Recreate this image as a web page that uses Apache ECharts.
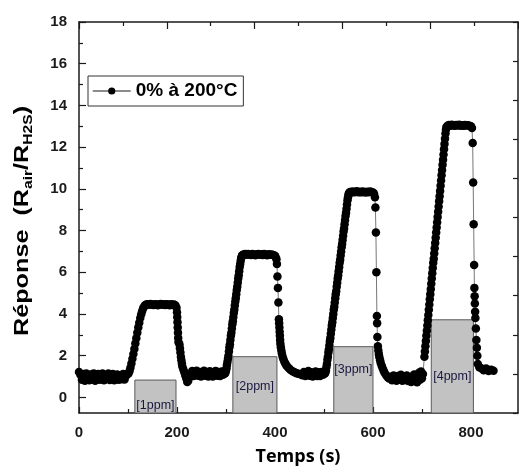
<!DOCTYPE html>
<html><head><meta charset="utf-8">
<script src="https://cdn.jsdelivr.net/npm/echarts@6/dist/echarts.min.js"></script>
<style>html,body{margin:0;padding:0;background:#fff}#c{width:519px;height:471px}</style>
</head><body><div id="c"></div>
<script>
// ---- data (time s, response) ----
const baseline0 = [[0,1.22],[3,1.08],[6,0.84],[9,1.12],[12,0.8],[15,1.14],[18,0.92],[21,0.82],[24,1.1],[27,0.88],[30,1.15],[33,0.8],[36,1.02],[39,1.12],[42,0.84],[45,0.98],[48,1.14],[51,0.82],[54,1.06],[57,0.88],[60,1.14],[63,0.83],[66,1.0],[69,1.12],[72,0.82],[75,0.96],[78,1.1],[81,0.84],[84,1.05],[87,0.87],[90,1.12],[93,0.86],[96,1.04],[99,1.12]];
const rise1 = [[101,1.14],[103,1.25],[105,1.42],[107,1.62],[109,1.85],[111,2.08],[113,2.32],[115,2.58],[117,2.84],[119,3.1],[121,3.35],[123,3.58],[125,3.8],[127,3.98],[129,4.14],[131,4.27],[133,4.36],[135,4.42],[137,4.45]];
const plateau1 = [[140,4.47],[143,4.44],[146,4.48],[149,4.45],[152,4.43],[155,4.47],[158,4.45],[161,4.42],[164,4.46],[167,4.48],[170,4.44],[173,4.46],[176,4.43],[179,4.47],[182,4.45],[185,4.42],[188,4.46],[191,4.44],[194,4.45],[197,4.41]];
const fall1 = [[199,4.3],[200,4.08],[200.5,3.85],[201,3.6],[201.5,3.35],[202,3.1],[202.5,2.85],[203,2.65],[205,2.55],[206,2.35],[207,2.15],[208,1.95],[209,1.78],[210,1.62],[211,1.48],[213,1.34],[215,1.2],[217,1.05],[219,0.9],[221,0.74],[223,0.8],[225,0.98]];
const baseline1 = [[228,1.08],[231,1.26],[234,1.02],[237,1.2],[240,1.28],[243,1.04],[246,1.22],[249,1.0],[252,1.2],[255,1.28],[258,1.04],[261,1.22],[264,1.0],[267,1.25],[270,1.08],[273,1.0],[276,1.22],[279,1.27],[282,1.04],[285,1.2],[288,1.02],[291,1.24],[294,1.08],[297,1.18]];
const rise2 = [[298,1.15],[299,1.2],[300,1.3],[301,1.4],[302,1.55],[303,1.7],[304,1.85],[305,2.0],[306,2.2],[307,2.4],[308,2.55],[309,2.75],[310,2.95],[311,3.1],[312,3.3],[313,3.5],[314,3.65],[315,3.85],[316,4.05],[317,4.2],[318,4.4],[319,4.6],[320,4.75],[321,4.95],[322,5.15],[323,5.3],[324,5.5],[325,5.7],[326,5.85],[327,6.05],[328,6.25],[329,6.4],[330,6.55],[331,6.68],[332,6.76],[333,6.8],[334,6.83],[336,6.85]];
const plateau2 = [[339,6.87],[342,6.84],[345,6.88],[348,6.85],[351,6.83],[354,6.87],[357,6.85],[360,6.82],[363,6.86],[366,6.88],[369,6.84],[372,6.86],[375,6.83],[378,6.87],[381,6.85],[384,6.82],[387,6.86],[390,6.84],[393,6.85],[396,6.83],[399,6.8],[401,6.76]];
const fall2 = [[403,6.62],[404,6.4],[405,5.8],[406,5.25],[407,4.55],[408,3.75],[408.5,3.55],[409,3.35],[409.5,3.15],[410,2.95],[410.5,2.75],[411,2.57],[412,2.4],[413,2.25],[414,2.1],[415.5,1.96],[417,1.84],[419,1.72],[421,1.62],[423,1.54],[426,1.46],[429,1.38],[432,1.31],[436,1.25],[440,1.2],[444,1.16],[448,1.13],[452,1.11]];
const baseline2 = [[456,1.06],[459,1.22],[462,1.02],[465,1.18],[468,1.26],[471,1.04],[474,1.2],[477,1.0],[480,1.16],[483,1.24],[486,1.03],[489,1.2],[492,1.02],[495,1.22],[498,1.08],[501,1.16]];
const rise3 = [[502,1.15],[503,1.2],[504,1.3],[505,1.45],[506,1.6],[507,1.8],[508,1.95],[509,2.15],[510,2.3],[511,2.5],[512,2.7],[513,2.85],[514,3.05],[515,3.25],[516,3.45],[517,3.6],[518,3.8],[519,4.0],[520,4.2],[521,4.35],[522,4.55],[523,4.75],[524,4.95],[525,5.1],[526,5.3],[527,5.5],[528,5.7],[529,5.85],[530,6.05],[531,6.25],[532,6.45],[533,6.6],[534,6.8],[535,7.0],[536,7.2],[537,7.35],[538,7.55],[539,7.75],[540,7.95],[541,8.1],[542,8.3],[543,8.5],[544,8.7],[545,8.85],[546,9.05],[547,9.25],[548,9.45],[549,9.6],[550,9.72],[551,9.8],[553,9.85]];
const plateau3 = [[555,9.84],[558,9.87],[561,9.83],[564,9.86],[567,9.88],[570,9.84],[573,9.86],[576,9.83],[579,9.87],[582,9.85],[585,9.82],[588,9.86],[591,9.84],[594,9.87],[597,9.85],[600,9.82],[602,9.78]];
const fall3 = [[604,9.6],[605,9.1],[606,7.9],[607,6.0],[608,3.9],[608.5,3.55],[609,2.9],[610,2.45],[611,2.25],[612,2.08],[613,1.93],[614.5,1.78],[616,1.64],[618,1.5],[620,1.38],[622,1.27],[624,1.17],[627,1.06],[630,0.97],[633,0.9]];
const baseline3 = [[636,0.98],[639,0.82],[642,1.05],[645,0.86],[648,0.8],[651,1.02],[654,0.85],[657,1.08],[660,0.8],[663,0.98],[666,0.83],[669,1.05],[672,0.78],[675,0.95],[678,0.74],[681,1.0],[684,1.1],[687,0.8],[690,0.72],[692,0.98],[694,1.18],[696,0.84],[698,1.24],[700,0.92],[702,1.12]];
const rise4 = [[705,1.95],[706,2.2],[707,2.45],[708,2.7],[709,2.95],[710,3.2],[711,3.45],[712,3.7],[713,3.95],[714,4.2],[715,4.45],[716,4.7],[717,4.95],[718,5.2],[719,5.45],[720,5.7],[721,5.95],[722,6.2],[723,6.45],[724,6.65],[725,6.9],[726,7.15],[727,7.4],[728,7.65],[729,7.9],[730,8.15],[731,8.4],[732,8.65],[733,8.9],[734,9.15],[735,9.4],[736,9.65],[737,9.9],[738,10.15],[739,10.4],[740,10.65],[741,10.9],[742,11.15],[743,11.4],[744,11.65],[745,11.9],[746,12.15],[747,12.4],[748,12.65],[749,12.85],[750,12.97],[752,13.03]];
const plateau4 = [[755,13.06],[758,13.03],[761,13.07],[764,13.04],[767,13.02],[770,13.06],[773,13.04],[776,13.07],[779,13.03],[782,13.05],[785,13.02],[788,13.06],[791,13.04],[794,13.05],[797,13.03],[800,13.0],[802,12.92]];
const fall4 = [[803.5,12.2],[804.5,10.3],[805.5,8.3],[806.5,6.35],[807,5.25],[807.5,4.85],[808,4.5],[808.5,4.1],[809,3.8],[810,3.3],[811,2.75],[812,2.38],[813,2.0],[814,1.6],[817,1.45],[821,1.4],[826,1.3],[831,1.38],[836,1.26],[841,1.33],[846,1.28]];

// exposure windows
const boxStart = [114, 314, 520, 719];
const boxEnd   = [198, 404, 600, 805];
const boxTop   = [0.83, 1.95, 2.43, 3.72];
const boxLabels = ['[1ppm]', '[2ppm]', '[3ppm]', '[4ppm]'];
const boxLabelY = [-0.37, 0.51, 1.31, 0.99];

const xTicks = [0, 200, 400, 600, 800];
const xMinorTicks = [100, 300, 500, 700];
const yTicks = [0, 2, 4, 6, 8, 10, 12, 14, 16, 18];
const yMinorTicks = [1, 3, 5, 7, 9, 11, 13, 15, 17];
const seriesName = '0% à 200°C';

// ---- chart ----
const X_MIN = 0, X_MAX = 896, Y_MIN = -0.75, Y_MAX = 18;
const curve = [].concat(baseline0, rise1, plateau1, fall1, baseline1, rise2, plateau2, fall2,
  baseline2, rise3, plateau3, fall3, baseline3, rise4, plateau4, fall4);
const boxes = boxStart.map((s, i) => [s, boxEnd[i], boxTop[i], i]);

const AX = '#1a1a1a';
const FONT = 'Liberation Sans';
const lineCommon = { show: true, onZero: false, lineStyle: { color: AX, width: 1.5 } };
const tickStyle = { color: AX, width: 1.2 };

const chart = echarts.init(document.getElementById('c'), null, { renderer: 'canvas' });
chart.setOption({
  animation: false,
  backgroundColor: '#fff',
  grid: { left: 79, right: 1, top: 22, bottom: 58, containLabel: false },
  legend: {
    left: 88, top: 76,
    data: [seriesName],
    orient: 'horizontal',
    padding: [5, 6, 5, 4],
    itemWidth: 38, itemHeight: 9,
    borderColor: '#333', borderWidth: 1, borderRadius: 0,
    backgroundColor: '#fff',
    textStyle: { fontFamily: FONT, fontWeight: 'bold', fontSize: 19, color: '#000', lineHeight: 20 },
    lineStyle: { color: '#666', width: 1.5 },
    selectedMode: false
  },
  xAxis: [
    { type: 'value', position: 'bottom', min: X_MIN, max: X_MAX,
      axisLine: lineCommon,
      axisTick: { show: true, inside: true, length: 6, lineStyle: tickStyle, customValues: xTicks },
      axisLabel: { show: true, customValues: xTicks, margin: 12, fontFamily: FONT, fontWeight: 'bold', fontSize: 15, color: AX },
      splitLine: { show: false } },
    { type: 'value', position: 'bottom', min: X_MIN, max: X_MAX,
      axisLine: { show: false, onZero: false },
      axisTick: { show: true, inside: true, length: 4, lineStyle: tickStyle, customValues: xMinorTicks },
      axisLabel: { show: false }, splitLine: { show: false } },
    { type: 'value', position: 'top', min: 0, max: 1000, interval: 200,
      axisLine: lineCommon,
      axisTick: { show: true, inside: true, length: 7, lineStyle: tickStyle },
      minorTick: { show: true, splitNumber: 2, length: 4, lineStyle: tickStyle },
      axisLabel: { show: false }, splitLine: { show: false }, minorSplitLine: { show: false } }
  ],
  yAxis: [
    { type: 'value', position: 'left', min: Y_MIN, max: Y_MAX,
      axisLine: lineCommon,
      axisTick: { show: true, inside: true, length: 7, lineStyle: tickStyle, customValues: yTicks },
      axisLabel: { show: true, customValues: yTicks, margin: 12, fontFamily: FONT, fontWeight: 'bold', fontSize: 15, color: AX },
      splitLine: { show: false } },
    { type: 'value', position: 'left', min: Y_MIN, max: Y_MAX,
      axisLine: { show: false, onZero: false },
      axisTick: { show: true, inside: true, length: 4, lineStyle: tickStyle, customValues: yMinorTicks },
      axisLabel: { show: false }, splitLine: { show: false } },
    { type: 'value', position: 'right', min: 0, max: 10, interval: 1,
      axisLine: lineCommon,
      axisTick: { show: true, inside: true, length: 5, lineStyle: tickStyle },
      axisLabel: { show: false }, splitLine: { show: false } }
  ],
  graphic: [
    { type: 'text', x: 22, y: 221, rotation: Math.PI / 2, scaleX: 1.2, scaleY: 1,
      style: {
        text: 'Réponse  (R{s|air}/R{s|H2S})',
        fontFamily: FONT, fontWeight: 'bold', fontSize: 21, lineHeight: 26, fill: '#000',
        align: 'center', verticalAlign: 'middle',
        rich: { s: { fontFamily: FONT, fontWeight: 'bold', fontSize: 13, lineHeight: 14, verticalAlign: 'bottom', fill: '#000' } }
      } },
    { type: 'text', x: 298, y: 457,
      style: { text: 'Temps (s)', fontFamily: 'Open Sans', fontWeight: 'bold', fontSize: 18, fill: '#000',
        align: 'center', verticalAlign: 'middle' } }
  ],
  series: [
    { type: 'custom', name: 'windows', xAxisIndex: 0, yAxisIndex: 0, z: 1, silent: true,
      data: boxes,
      encode: { x: [0, 1], y: 2 },
      renderItem: function (params, api) {
        const i = api.value(3);
        const p1 = api.coord([api.value(0), api.value(2)]);
        const p2 = api.coord([api.value(1), Y_MIN]);
        const ly = api.coord([0, boxLabelY[i]])[1];
        return { type: 'group', children: [
          { type: 'rect', shape: { x: p1[0], y: p1[1], width: p2[0] - p1[0], height: p2[1] - p1[1] },
            style: { fill: '#c2c2c2', stroke: '#5a5a5a', lineWidth: 1 } },
          { type: 'text', style: { text: boxLabels[i], x: (p1[0] + p2[0]) / 2, y: ly, align: 'center', verticalAlign: 'middle',
            fill: '#1a1840', fontSize: 12.5, fontFamily: FONT } }
        ] };
      } },
    { type: 'line', name: seriesName, xAxisIndex: 0, yAxisIndex: 0, z: 3,
      data: curve,
      symbol: 'circle', symbolSize: 8.5, showSymbol: true,
      itemStyle: { color: '#000' },
      lineStyle: { color: '#777', width: 1 },
      silent: true }
  ]
});
</script>
</body></html>
